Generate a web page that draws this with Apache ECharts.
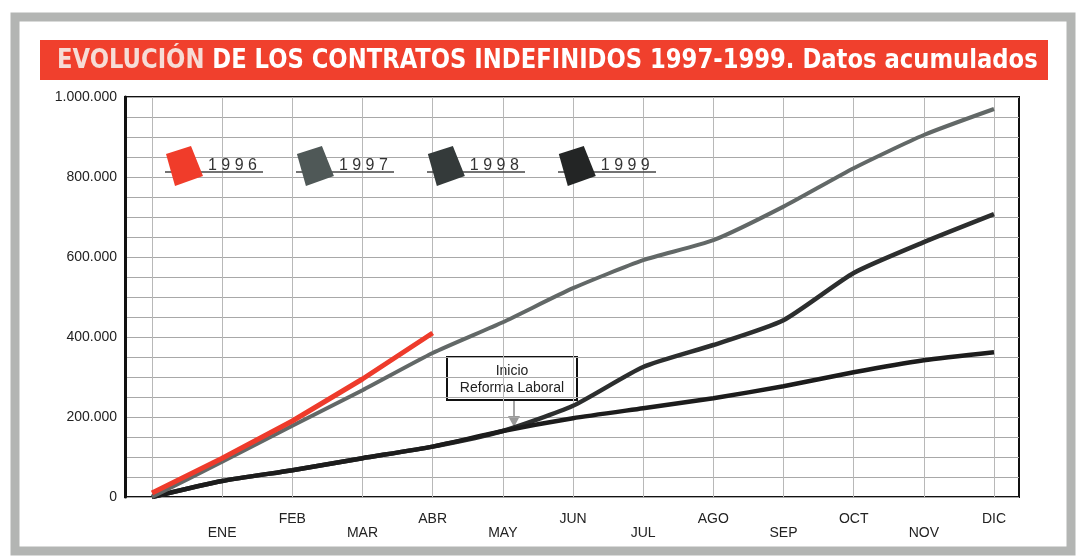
<!DOCTYPE html>
<html>
<head>
<meta charset="utf-8">
<script src="https://cdn.jsdelivr.net/npm/echarts@6/dist/echarts.min.js"></script>
<style>
  html, body { margin: 0; padding: 0; background: #fff; }
  #chart { width: 1081px; height: 557px; }
</style>
</head>
<body>
<div id="chart"></div>
<script>
// meses (el primero es el origen, sin etiqueta)
var months = ['', 'ENE', 'FEB', 'MAR', 'ABR', 'MAY', 'JUN', 'JUL', 'AGO', 'SEP', 'OCT', 'NOV', 'DIC'];
var years = ['1996', '1997', '1998', '1999'];

// datos acumulados
var serie1996 = [10000, 97000, 190000, 295000, 410000];
var serie1997 = [0, 88000, 178000, 267000, 360000, 437000, 522000, 592000, 642000, 726000, 822000, 905000, 970000];
var serie1998 = [0, 40000, 67000, 97000, 126000, 165000, 228000, 325000, 380000, 442000, 560000, 637000, 707000];
var serie1999 = [0, 40000, 67000, 97000, 126000, 165000, 197000, 222000, 247000, 277000, 312000, 342000, 362000];

var lineColors = ['#ee3b2b', '#626867', '#2c2e2e', '#1c1c1c'];
var legendColors = ['#f03c2a', '#4f5857', '#343a3a', '#232525'];

var chart = echarts.init(document.getElementById('chart'));

function fmt(v) {
  return String(v).replace(/\B(?=(\d{3})+(?!\d))/g, '.');
}

var legendLeft = 161;
var legendStep = 131;
var underlines = years.map(function (y, i) {
  return {
    type: 'line',
    z: 3,
    shape: { x1: 165 + i * legendStep, y1: 172, x2: 263 + i * legendStep, y2: 172 },
    style: { stroke: '#444', lineWidth: 1.5 }
  };
});

var option = {
  backgroundColor: '#fff',
  animation: false,
  textStyle: { fontFamily: 'Liberation Sans, Arial, sans-serif' },
  grid: [
    { left: 125, right: 62, top: 97, bottom: 60, show: true, borderColor: '#111', borderWidth: 2, backgroundColor: '#fff' },
    { left: 152, right: 87, top: 97, bottom: 60 }
  ],
  xAxis: [
    { type: 'value', gridIndex: 0, min: 0, max: 1, show: false },
    {
      type: 'category', gridIndex: 1, data: months, boundaryGap: false,
      axisLine: { show: false }, axisTick: { show: false },
      splitLine: { show: true, lineStyle: { color: '#b8b8b8', width: 1 } },
      axisLabel: {
        interval: 0, margin: 15, color: '#222', fontSize: 14,
        formatter: function (v, i) {
          return i % 2 === 1 ? '{lo|' + v + '}' : '{hi|' + v + '}';
        },
        rich: {
          lo: { fontSize: 14, color: '#222', padding: [14, 0, 0, 0] },
          hi: { fontSize: 14, color: '#222' }
        }
      }
    }
  ],
  yAxis: [
    {
      type: 'value', gridIndex: 0, min: 0, max: 1000000, interval: 50000,
      axisLine: { show: true, lineStyle: { color: '#111', width: 3 } },
      axisTick: { show: false },
      splitLine: { show: true, lineStyle: { color: '#a8a8a8', width: 1 } },
      axisLabel: {
        margin: 8, color: '#222', fontSize: 14,
        formatter: function (v) { return v % 200000 === 0 ? fmt(v) : ''; }
      }
    },
    { type: 'value', gridIndex: 1, min: 0, max: 1000000, show: false }
  ],
  legend: {
    left: legendLeft, top: 141, itemWidth: 37, itemHeight: 40, itemGap: 40,
    icon: 'path://M0,8 L25,0 L37,30 L9,40 Z',
    formatter: function (n) { return n.split('').join(' '); },
    textStyle: { fontSize: 16, color: '#333', padding: [4, 0, 0, 0] },
    lineStyle: { opacity: 0 },
    selectedMode: false,
    data: years.map(function (y, i) {
      return { name: y, itemStyle: { color: legendColors[i] } };
    })
  },
  graphic: [
    {
      type: 'rect', z: -10, silent: true,
      shape: { x: 15, y: 17, width: 1056, height: 534 },
      style: { fill: 'none', stroke: '#b3b5b3', lineWidth: 9 }
    },
    {
      type: 'rect', z: 10,
      shape: { x: 40, y: 40, width: 1008, height: 40 },
      style: { fill: '#f0402d' }
    },
    {
      type: 'text', z: 11, x: 57, y: 61, scaleX: 0.935,
      style: {
        text: '{a|EVOLUCIÓN}{b| DE LOS CONTRATOS INDEFINIDOS 1997-1999. Datos acumulados}',
        verticalAlign: 'middle',
        rich: {
          a: { fontFamily: 'DejaVu Sans Condensed', fontWeight: 'bold', fontSize: 27, fill: '#f6dcd6' },
          b: { fontFamily: 'DejaVu Sans Condensed', fontWeight: 'bold', fontSize: 27, fill: '#fff' }
        }
      }
    },
    {
      type: 'group', z: 20,
      children: [
        {
          type: 'line',
          shape: { x1: 514, y1: 400, x2: 514, y2: 424 },
          style: { stroke: '#888', lineWidth: 1.5 }
        },
        {
          type: 'polygon',
          shape: { points: [[508, 416], [514, 427], [520, 416]] },
          style: { fill: '#999' }
        },
        {
          type: 'rect',
          shape: { x: 447, y: 357, width: 130, height: 43 },
          style: { fill: '#fff', stroke: '#111', lineWidth: 2 }
        },
        {
          type: 'text', x: 512, y: 371,
          style: { text: 'Inicio', fontSize: 14, fill: '#222', align: 'center', verticalAlign: 'middle', fontFamily: 'Liberation Sans' }
        },
        {
          type: 'text', x: 512, y: 388,
          style: { text: 'Reforma Laboral', fontSize: 14, fill: '#222', align: 'center', verticalAlign: 'middle', fontFamily: 'Liberation Sans' }
        }
      ]
    }
  ].concat(underlines),
  series: [
    {
      name: '1996', type: 'line', xAxisIndex: 1, yAxisIndex: 1, data: serie1996,
      symbol: 'none', z: 5, lineStyle: { color: lineColors[0], width: 5 }, itemStyle: { color: lineColors[0] }
    },
    {
      name: '1997', type: 'line', xAxisIndex: 1, yAxisIndex: 1, data: serie1997, smooth: 0.2,
      symbol: 'none', z: 4, lineStyle: { color: lineColors[1], width: 4 }, itemStyle: { color: lineColors[1] }
    },
    {
      name: '1998', type: 'line', xAxisIndex: 1, yAxisIndex: 1, data: serie1998, smooth: 0.2,
      symbol: 'none', z: 3, lineStyle: { color: lineColors[2], width: 4.5 }, itemStyle: { color: lineColors[2] }
    },
    {
      name: '1999', type: 'line', xAxisIndex: 1, yAxisIndex: 1, data: serie1999, smooth: 0.2,
      symbol: 'none', z: 3, lineStyle: { color: lineColors[3], width: 4.5 }, itemStyle: { color: lineColors[3] }
    }
  ]
};

chart.setOption(option);
</script>
</body>
</html>
